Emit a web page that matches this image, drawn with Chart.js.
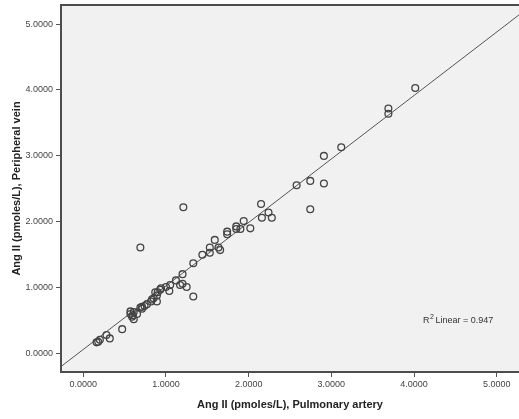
<!DOCTYPE html>
<html>
<head>
<meta charset="utf-8">
<script src="https://cdn.jsdelivr.net/npm/chart.js@4/dist/chart.umd.min.js"></script>
<style>
  html, body { margin: 0; padding: 0; background: #fff; }
  #wrap { width: 519px; height: 419px; }
</style>
</head>
<body>
<div id="wrap"><canvas id="chart" width="519" height="419"></canvas></div>
<script>
  'use strict';

  // --- Datos: Ang II (pmoles/L) ---
  const arteriaPulmonar = [
    0.16, 0.18, 0.20, 0.28, 0.32, 0.47, 0.57, 0.57, 0.59, 0.61,
    0.61, 0.65, 0.60, 0.69, 0.71, 0.71, 0.74, 0.77, 0.69, 0.82,
    0.83, 0.85, 0.89, 0.89, 0.87, 0.90, 0.93, 0.94, 1.00, 1.04,
    1.05, 1.12, 1.17, 1.20, 1.25, 1.20, 1.33, 1.33, 1.21, 1.44,
    1.53, 1.53, 1.59, 1.635, 1.655, 1.74, 1.74, 1.85, 1.90, 1.85,
    1.94, 2.02, 2.15, 2.16, 2.24, 2.28, 2.58, 2.745, 2.745, 2.91,
    2.91, 3.12, 3.69, 3.69, 4.015
  ];
  const venaPeriferica = [
    0.17, 0.18, 0.21, 0.28, 0.23, 0.37, 0.60, 0.64, 0.56, 0.63,
    0.52, 0.60, 0.58, 0.70, 0.71, 0.68, 0.72, 0.75, 1.61, 0.79,
    0.82, 0.84, 0.79, 0.88, 0.93, 0.93, 0.97, 0.99, 1.01, 0.95,
    1.04, 1.11, 1.04, 1.06, 1.01, 1.205, 0.865, 1.37, 2.22, 1.50,
    1.53, 1.61, 1.725, 1.61, 1.57, 1.85, 1.81, 1.89, 1.89, 1.93,
    2.01, 1.90, 2.27, 2.06, 2.14, 2.06, 2.555, 2.62, 2.19, 2.58,
    3.00, 3.13, 3.72, 3.64, 4.03
  ];

  // recta de ajuste (extremos)
  const ajusteX = [-0.27, 5.27];
  const ajusteY = [-0.197, 5.14];
  const r2Texto = '0.947';

  const ejeMin = -0.27;
  const ejeMaxX = 5.27;
  const ejeMinY = -0.28;
  const ejeMaxY = 5.29;
  const ticks = [0, 1, 2, 3, 4, 5];

  const puntos = arteriaPulmonar.map((x, i) => ({ x, y: venaPeriferica[i] }));
  const recta = ajusteX.map((x, i) => ({ x, y: ajusteY[i] }));

  const FUENTE = "'Liberation Sans', Arial, sans-serif";
  const GRIS = '#555';

  // fondo y marco del área de datos + etiqueta R²
  const marco = {
    id: 'marco',
    beforeDatasetsDraw(chart) {
      const { ctx, chartArea: a } = chart;
      ctx.save();
      ctx.fillStyle = '#f1f1f1';
      ctx.fillRect(a.left, a.top, a.right - a.left, a.bottom - a.top);
      ctx.restore();
    },
    afterDraw(chart) {
      const { ctx, chartArea: a } = chart;
      ctx.save();
      ctx.strokeStyle = '#4d4d4d';
      ctx.lineWidth = 2;
      ctx.strokeRect(a.left, a.top, a.right - a.left + 2, a.bottom - a.top);

      ctx.fillStyle = '#333';
      ctx.textBaseline = 'middle';
      ctx.textAlign = 'left';
      let x = 423, y = 321;
      ctx.font = `9px ${FUENTE}`;
      ctx.fillText('R', x, y);
      x += ctx.measureText('R').width;
      ctx.font = `7px ${FUENTE}`;
      ctx.fillText('2', x + 0.5, y - 4);
      x += ctx.measureText('2').width + 2;
      ctx.font = `9px ${FUENTE}`;
      ctx.fillText('Linear = ' + r2Texto, x, y);
      ctx.restore();
    }
  };

  const etiquetaTick = v => ticks.includes(Math.round(v * 1000) / 1000) ? Number(v).toFixed(4) : '';

  new Chart(document.getElementById('chart').getContext('2d'), {
    type: 'scatter',
    data: {
      datasets: [
        {
          label: 'Ajuste',
          type: 'line',
          data: recta,
          borderColor: GRIS,
          borderWidth: 1,
          pointRadius: 0,
          fill: false,
          order: 2
        },
        {
          label: 'Ang II',
          data: puntos,
          pointStyle: 'circle',
          pointRadius: 3.4,
          pointBorderWidth: 1.3,
          pointBorderColor: '#444',
          pointBackgroundColor: 'rgba(0,0,0,0)',
          order: 1
        }
      ]
    },
    options: {
      responsive: false,
      animation: false,
      devicePixelRatio: 1,
      layout: { autoPadding: false, padding: { top: 5, right: 0, left: 0, bottom: 0 } },
      plugins: { legend: { display: false }, tooltip: { enabled: false } },
      scales: {
        x: {
          type: 'linear',
          min: ejeMin,
          max: ejeMaxX,
          afterBuildTicks: s => { s.ticks = ticks.map(v => ({ value: v })); },
          afterFit: s => { s.height = 47; s.paddingLeft = 0; s.paddingRight = 0; },
          grid: { drawOnChartArea: false, drawTicks: true, tickLength: 5, tickColor: GRIS, lineWidth: 1 },
          border: { display: false },
          ticks: { callback: etiquetaTick, color: '#444', padding: 2, maxRotation: 0, font: { family: FUENTE, size: 9 } },
          title: {
            display: true,
            text: 'Ang II (pmoles/L), Pulmonary artery',
            color: '#222',
            font: { family: FUENTE, size: 11, weight: 'bold' },
            padding: { top: 0, bottom: 7.4 }
          }
        },
        y: {
          type: 'linear',
          min: ejeMinY,
          max: ejeMaxY,
          afterBuildTicks: s => { s.ticks = ticks.map(v => ({ value: v })); },
          afterFit: s => { s.width = 61; s.paddingTop = 0; s.paddingBottom = 0; },
          grid: { drawOnChartArea: false, drawTicks: true, tickLength: 5, tickColor: GRIS, lineWidth: 1 },
          border: { display: false },
          ticks: { callback: etiquetaTick, color: '#444', padding: 3, font: { family: FUENTE, size: 9 } },
          title: {
            display: true,
            text: 'Ang II (pmoles/L), Peripheral vein',
            color: '#222',
            font: { family: FUENTE, size: 11, weight: 'bold' },
            padding: { top: 10.4, bottom: 0 }
          }
        }
      }
    },
    plugins: [marco]
  });
</script>
</body>
</html>
